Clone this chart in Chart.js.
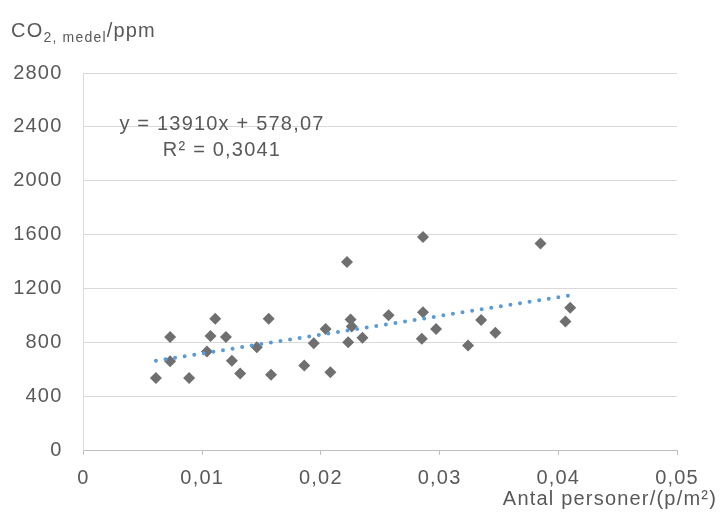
<!DOCTYPE html>
<html>
<head>
<meta charset="utf-8">
<script src="https://cdn.jsdelivr.net/npm/chart.js@4.4.0/dist/chart.umd.min.js"></script>
<style>
  html, body { margin: 0; padding: 0; background: #fff; }
  #wrap { width: 720px; height: 525px; }
</style>
</head>
<body>
<div id="wrap"><canvas id="myChart" width="720" height="525"></canvas></div>
<script>
// measured points (persons per m2, mean CO2 in ppm)
var xValues = [0.0061, 0.0073, 0.0073, 0.0089, 0.0104, 0.0107, 0.0111, 0.0120, 0.0125, 0.0132,
               0.0146, 0.0156, 0.0158, 0.0186, 0.0194, 0.0208, 0.0204, 0.0222, 0.0223, 0.0225,
               0.0226, 0.0235, 0.0257, 0.0286, 0.0286, 0.0285, 0.0297, 0.0324, 0.0335, 0.0347,
               0.0385, 0.0406, 0.0410];
var yValues = [534, 839, 660, 534, 732, 846, 975, 839, 663, 569,
               764, 975, 559, 628, 792, 578, 898, 1396, 801, 970,
               918, 834, 1000, 1582, 1024, 827, 898, 777, 965, 871,
               1533, 955, 1057];

// linear trend line end points
var trendX = [0.0061, 0.0411];
var trendY = [663, 1150];

var equationLines = ['y = 13910x + 578,07', 'R\u00b2 = 0,3041'];
var xTitle = 'Antal personer/(p/m\u00b2)';
var yTitleParts = ['CO', '2, medel', '/ppm'];

var FONT = '"Liberation Sans", Arial, sans-serif';
var TEXT = '#595959';

function setSpacing(chart) {
  if ('letterSpacing' in chart.ctx) chart.ctx.letterSpacing = '1.2px';
}

var textPlugin = {
  id: 'texts',
  beforeUpdate: setSpacing,
  beforeLayout: setSpacing,
  beforeDraw: setSpacing,
  afterDraw: function(chart) {
    var ctx = chart.ctx;
    ctx.save();
    setSpacing(chart);
    ctx.fillStyle = TEXT;
    ctx.textBaseline = 'alphabetic';

    // y title with subscript
    var x = 11;
    ctx.textAlign = 'left';
    ctx.font = '20px ' + FONT;
    ctx.fillText(yTitleParts[0], x, 37);
    x += ctx.measureText(yTitleParts[0]).width;
    ctx.font = '14px ' + FONT;
    ctx.fillText(yTitleParts[1], x, 42);
    x += ctx.measureText(yTitleParts[1]).width;
    ctx.font = '20px ' + FONT;
    ctx.fillText(yTitleParts[2], x, 37);

    // x title
    ctx.textAlign = 'right';
    ctx.fillText(xTitle, 717, 505);

    // trend line equation
    ctx.textAlign = 'center';
    ctx.fillText(equationLines[0], 222, 130);
    ctx.fillText(equationLines[1], 222, 156);
    ctx.restore();
  }
};

var ctx = document.getElementById("myChart");
var myChart = new Chart(ctx, {
  type: 'scatter',
  data: {
    datasets: [{
      type: 'line',
      data: trendX.map(function(v, i) { return {x: v, y: trendY[i]}; }),
      borderColor: '#5B9BD5',
      borderWidth: 4,
      borderDash: [0, 9.7],
      borderCapStyle: 'round',
      pointRadius: 0,
      fill: false
    }, {
      data: xValues.map(function(v, i) { return {x: v, y: yValues[i]}; }),
      pointStyle: 'rectRot',
      pointRadius: 6,
      backgroundColor: '#6F6F6F',
      borderColor: '#6F6F6F',
      borderWidth: 0
    }]
  },
  options: {
    responsive: false,
    animation: false,
    events: [],
    layout: {
      padding: { left: 0, right: 43, top: 73, bottom: 0 }
    },
    plugins: {
      legend: { display: false },
      tooltip: { enabled: false }
    },
    scales: {
      x: {
        type: 'linear',
        min: 0,
        max: 0.05,
        afterFit: function(s) { s.height = 75; },
        ticks: {
          stepSize: 0.01,
          padding: 11,
          color: TEXT,
          font: { family: FONT, size: 20 },
          callback: function(v) { return v === 0 ? '0' : v.toFixed(2).replace('.', ','); }
        },
        grid: {
          drawOnChartArea: false,
          color: '#BFBFBF',
          tickLength: 5
        },
        border: { color: '#BFBFBF', width: 1 }
      },
      y: {
        min: 0,
        max: 2800,
        afterFit: function(s) { s.width = 83.5; },
        ticks: {
          stepSize: 400,
          padding: 21,
          color: TEXT,
          font: { family: FONT, size: 20 },
          callback: function(v) { return String(v); }
        },
        grid: {
          color: '#D9D9D9',
          lineWidth: 1,
          drawTicks: false
        },
        border: { color: '#D9D9D9', width: 1 }
      }
    }
  },
  plugins: [textPlugin]
});
</script>
</body>
</html>
